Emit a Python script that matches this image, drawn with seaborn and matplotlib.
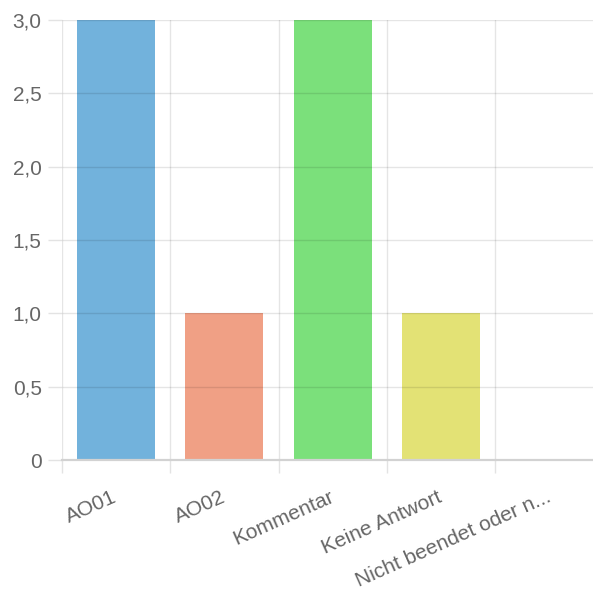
import matplotlib
matplotlib.use("Agg")
import matplotlib.pyplot as plt
import matplotlib.ticker as mticker
import seaborn as sns
import pandas as pd

categories = ["AO01", "AO02", "Kommentar", "Keine Antwort", "Nicht beendet oder n..."]
counts = [3, 1, 3, 1, 0]
colors = ["#72b2dc", "#f0a085", "#7be07b", "#e3e275", "#b0b0b0"]
y_ticks = [0, 0.5, 1.0, 1.5, 2.0, 2.5, 3.0]

sns.set_theme(style="white")
plt.rcParams["font.family"] = ["Liberation Sans", "DejaVu Sans"]

df = pd.DataFrame({"Antwort": categories, "Anzahl": counts})

fig = plt.figure(figsize=(5.93, 5.94), dpi=100)
ax = fig.add_axes([61.8 / 593, 134 / 594, 542 / 593, 440 / 594])

sns.barplot(data=df, x="Antwort", y="Anzahl", hue="Antwort",
            palette=dict(zip(categories, colors)), legend=False,
            width=0.72, saturation=1, linewidth=0, ax=ax, zorder=1)

tick_c = "#e3e3e3"
ax.set_xlim(-0.5, len(categories) - 0.5)
ax.set_ylim(0, 3)
ax.set_yticks(y_ticks)
ax.yaxis.set_major_formatter(mticker.FuncFormatter(
    lambda v, _: "0" if v == 0 else f"{v:.1f}".replace(".", ",")))

ax.set_xticks(range(len(categories)))
ax.set_xticklabels(categories, rotation=24, ha="right", va="center",
                   rotation_mode="anchor")
ax.set_xticks([i - 0.5 for i in range(len(categories) + 1)], minor=True)

ax.grid(axis="y", which="major", color="black", alpha=0.1, linewidth=1, zorder=3)
ax.grid(axis="x", which="minor", color="black", alpha=0.1, linewidth=1, zorder=3)
ax.set_axisbelow(False)

ax.tick_params(axis="x", which="major", bottom=True, length=0, pad=26,
               labelsize=15, labelcolor="#666666")
ax.tick_params(axis="x", which="minor", bottom=True, length=9.5, width=1,
               color=tick_c)
ax.tick_params(axis="y", which="major", left=True, length=10, width=1,
               color=tick_c, pad=4.5, labelsize=15, labelcolor="#666666")

for side in ["top", "right", "left"]:
    ax.spines[side].set_visible(False)
ax.spines["bottom"].set_color("#d2d2d2")
ax.spines["bottom"].set_linewidth(1.6)
ax.spines["bottom"].set_zorder(4)

ax.set_xlabel("")
ax.set_ylabel("")

fig.savefig("out.png", dpi=100)
